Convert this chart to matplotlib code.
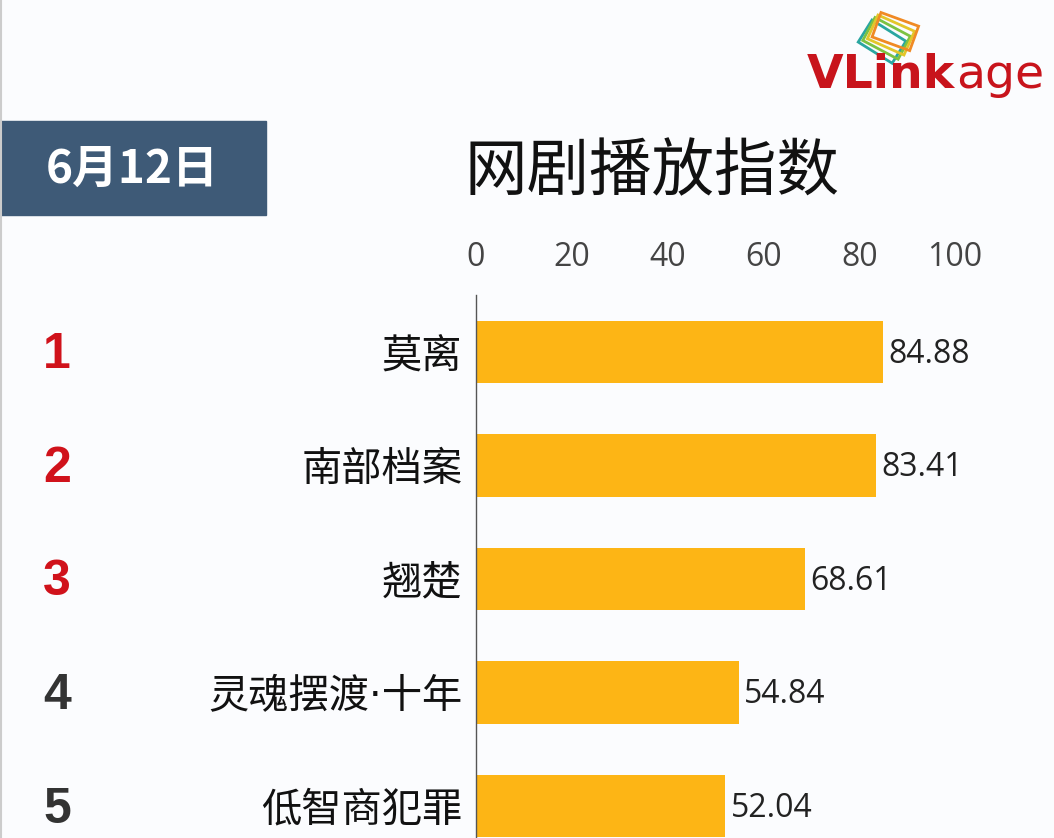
import numpy as np
import matplotlib.pyplot as plt
from matplotlib.patches import Rectangle
from matplotlib.transforms import blended_transform_factory

plt.rcParams['font.family'] = ['Noto Sans CJK SC', 'DejaVu Sans']

# data
ranks = ['1', '2', '3', '4', '5']
shows = ['莫离', '南部档案', '翘楚', '灵魂摆渡·十年', '低智商犯罪']
scores = [84.88, 83.41, 68.61, 54.84, 52.04]
ticks = [0, 20, 40, 60, 80, 100]
title = '网剧播放指数'
date_label = '6月12日'

bar_color = '#fdb515'
rank_colors = ['#d0121b', '#d0121b', '#d0121b', '#333333', '#333333']
bg = '#fbfcfe'

W, H = 1054, 838
fig = plt.figure(figsize=(W / 100, H / 100), dpi=100, facecolor=bg)

# overlay for decorations, pixel coords
deco = fig.add_axes([0, 0, 1, 1])
deco.set_xlim(0, W)
deco.set_ylim(H, 0)
deco.axis('off')
deco.set_facecolor(bg)
deco.axvline(1, color='#cccccc', lw=1.5)

# date box
deco.add_patch(Rectangle((0, 121), 266, 94, color='#3e5a77'))
deco.text(132, 170, date_label, color='white', fontsize=33, fontweight='heavy',
          ha='center', va='center')
deco.text(652, 172, title, color='#111111', fontsize=45, fontweight='medium',
          ha='center', va='center')

# logo
card_cols = ['#2aa6a0', '#7cc242', '#e3c62a', '#f08a24']
for i, c in enumerate(card_cols):
    deco.add_patch(Rectangle((872 + i * 3, 20 - i * 2.5), 40, 26, angle=32 - i * 4,
                             fill=False, edgecolor=c, lw=2))
t1 = deco.text(807, 88, 'VLink', color='#c8141c', fontsize=34, fontweight='bold',
               family=['DejaVu Sans'], va='baseline')
fig.canvas.draw()
bb = t1.get_window_extent()
x_age = deco.transData.inverted().transform((bb.x1, bb.y0))[0]
deco.text(x_age + 1, 88, 'age', color='#c8141c', fontsize=34,
          family=['DejaVu Sans'], va='baseline')

# chart
ax = fig.add_axes([476 / W, 0, 479 / W, 1 - 295 / H])
ax.set_facecolor('none')
y = np.arange(len(shows))
ax.barh(y, scores, height=0.55, color=bar_color)
ax.set_xlim(0, 100)
ax.set_ylim(4.28, -0.5)
ax.xaxis.tick_top()
ax.set_xticks(ticks)
ax.set_xticklabels([str(t) for t in ticks], fontsize=23, color='#444444',
                   family=['Open Sans', 'DejaVu Sans'])
ax.set_yticks(y)
ax.set_yticklabels(shows, fontsize=29, color='#111111',
                   family=['DejaVu Sans', 'Noto Sans CJK SC'])
ax.tick_params(axis='x', length=0, pad=15)
ax.tick_params(axis='y', length=0, pad=10)
for s in ['top', 'right', 'bottom']:
    ax.spines[s].set_visible(False)
ax.spines['left'].set_color('#555555')
ax.spines['left'].set_linewidth(1)

for yi, v in zip(y, scores):
    ax.text(v + 1.2, yi + 0.02, f'{v:.2f}', fontsize=23, color='#222222',
            va='center', ha='left', family=['Open Sans', 'DejaVu Sans'])

trans = blended_transform_factory(fig.transFigure, ax.transData)
for yi, r, c in zip(y, ranks, rank_colors):
    ax.text(57 / W, yi + 0.03, r, transform=trans, fontsize=36, fontweight='bold',
            color=c, ha='center', va='center',
            family=['Liberation Sans Narrow', 'Liberation Sans', 'DejaVu Sans'])

fig.savefig('out.png', dpi=100, facecolor=bg)
